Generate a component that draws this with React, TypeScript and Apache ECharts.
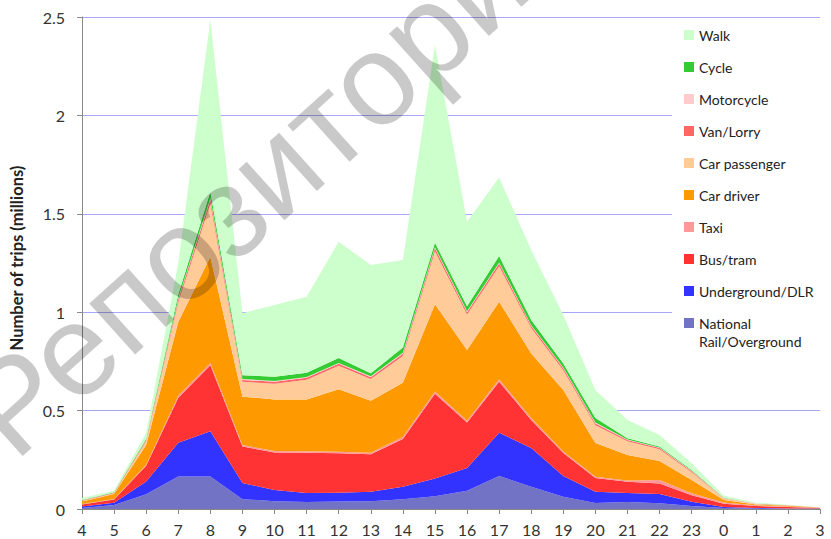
import React, { useEffect, useRef } from "react";
import * as echarts from "echarts";

const hours = ["4","5","6","7","8","9","10","11","12","13","14","15","16","17","18","19","20","21","22","23","0","1","2","3"];

const nationalRail = [0.005,0.02,0.075,0.165,0.165,0.05,0.04,0.035,0.038,0.04,0.05,0.065,0.093,0.168,0.113,0.062,0.03,0.035,0.029,0.015,0.005,0.002,0.001,0.001];
const underground = [0.008,0.012,0.065,0.172,0.23,0.082,0.057,0.046,0.045,0.048,0.063,0.09,0.115,0.22,0.197,0.106,0.058,0.046,0.047,0.022,0.005,0.003,0.002,0.001];
const busTram = [0.01,0.016,0.08,0.228,0.335,0.185,0.19,0.205,0.2,0.19,0.243,0.43,0.231,0.259,0.142,0.116,0.069,0.058,0.054,0.033,0.017,0.01,0.007,0.003];
const taxi = [0.003,0.003,0.005,0.01,0.012,0.008,0.008,0.008,0.008,0.008,0.01,0.012,0.01,0.012,0.01,0.008,0.007,0.006,0.017,0.01,0.006,0.004,0.003,0.001];
const carDriver = [0.012,0.025,0.1,0.375,0.54,0.246,0.262,0.263,0.317,0.264,0.276,0.443,0.359,0.394,0.328,0.313,0.171,0.129,0.097,0.067,0.013,0.004,0.003,0.001];
const carPassenger = [0.003,0.004,0.02,0.1,0.27,0.075,0.08,0.1,0.12,0.11,0.135,0.27,0.18,0.18,0.13,0.1,0.09,0.07,0.06,0.04,0.007,0.003,0.002,0.001];
const vanLorry = [0.002,0.002,0.005,0.015,0.02,0.01,0.01,0.01,0.01,0.01,0.012,0.015,0.012,0.015,0.01,0.01,0.01,0.006,0.006,0.005,0.002,0.001,0.001,0];
const motorcycle = [0.001,0.001,0.002,0.005,0.008,0.004,0.004,0.004,0.004,0.004,0.005,0.005,0.005,0.005,0.004,0.004,0.004,0.003,0.002,0.002,0.001,0.0005,0,0];
const cycle = [0.002,0.002,0.005,0.02,0.032,0.02,0.021,0.021,0.025,0.016,0.026,0.023,0.025,0.032,0.026,0.02,0.023,0.007,0.006,0.004,0.001,0.0005,0,0];
const walk = [0.01,0.008,0.03,0.16,0.873,0.315,0.364,0.387,0.591,0.55,0.445,1.005,0.43,0.399,0.356,0.247,0.143,0.092,0.058,0.035,0.011,0.004,0.002,0.001];

const seriesDefs = [
  { name: "National Rail/Overground", data: nationalRail, color: "#7373c6" },
  { name: "Underground/DLR", data: underground, color: "#3333ff" },
  { name: "Bus/tram", data: busTram, color: "#ff3333" },
  { name: "Taxi", data: taxi, color: "#ff9999" },
  { name: "Car driver", data: carDriver, color: "#ff9900" },
  { name: "Car passenger", data: carPassenger, color: "#ffcc99" },
  { name: "Van/Lorry", data: vanLorry, color: "#ff6666" },
  { name: "Motorcycle", data: motorcycle, color: "#ffcccc" },
  { name: "Cycle", data: cycle, color: "#33cc33" },
  { name: "Walk", data: walk, color: "#ccffcc" },
];

const FONT = "Lato, 'Open Sans', sans-serif";

const LEGEND_LEFT = 672;
const LEGEND_TOP = 20;
const LEGEND_PAD = [6, 22, 30, 12];
const ITEM_SPACING = 32;

export default function App() {
  const ref = useRef<HTMLDivElement>(null);
  useEffect(() => {
    if (!ref.current) return;
    const chart = echarts.init(ref.current, null, { renderer: "svg" });
    const legendNames = seriesDefs.slice().reverse().map((s) => s.name);
    const lastCenter = LEGEND_TOP + LEGEND_PAD[0] + 9 + ITEM_SPACING * (legendNames.length - 1);
    chart.setOption({
      animation: false,
      backgroundColor: "#ffffff",
      grid: { left: 81, right: 11, top: 17, bottom: 30, containLabel: false },
      legend: {
        orient: "vertical",
        left: LEGEND_LEFT,
        top: LEGEND_TOP,
        backgroundColor: "#ffffff",
        padding: LEGEND_PAD,
        icon: "rect",
        itemWidth: 10,
        itemHeight: 10,
        itemGap: ITEM_SPACING - 18,
        textStyle: { fontFamily: FONT, fontSize: 14, color: "#222", lineHeight: 18 },
        formatter: (n: string) => (n === "National Rail/Overground" ? "National" : n),
        data: legendNames,
      },
      xAxis: {
        type: "category",
        data: hours,
        boundaryGap: false,
        axisLine: { lineStyle: { color: "#888888", width: 1 } },
        axisTick: { show: true, length: 5, lineStyle: { color: "#888888" } },
        axisLabel: { fontFamily: FONT, fontSize: 16, color: "#333", margin: 12, interval: 0 },
        splitLine: { show: false },
      },
      yAxis: {
        type: "value",
        min: 0,
        max: 2.5,
        interval: 0.5,
        name: "Number of trips (millions)",
        nameLocation: "middle",
        nameGap: 57,
        nameTextStyle: {
          fontFamily: FONT,
          fontSize: 16.5,
          fontWeight: "bold",
          color: "#222",
          padding: [0, 0, 0, 10],
        },
        axisLine: { show: true, lineStyle: { color: "#888888", width: 1 } },
        axisTick: { show: true, length: 5, lineStyle: { color: "#888888" } },
        axisLabel: { fontFamily: FONT, fontSize: 16, color: "#333", margin: 17 },
        splitLine: { show: true, lineStyle: { color: "#a8a8f8", width: 1 } },
      },
      series: seriesDefs.map((s) => ({
        name: s.name,
        type: "line",
        stack: "total",
        data: s.data,
        showSymbol: false,
        symbol: "none",
        itemStyle: { color: s.color },
        lineStyle: { width: 0, color: s.color },
        areaStyle: { color: s.color, opacity: 1 },
        emphasis: { disabled: true },
      })),
      graphic: [
        {
          type: "text",
          z: 100,
          x: LEGEND_LEFT + LEGEND_PAD[3] + 10 + 5,
          y: lastCenter + 18,
          silent: true,
          style: {
            text: "Rail/Overground",
            fontFamily: FONT,
            fontSize: 14,
            fill: "#222",
            textAlign: "left",
            textVerticalAlign: "middle",
          },
        },
        {
          type: "text",
          z: 100,
          x: 28,
          y: 478,
          rotation: (42 * Math.PI) / 180,
          silent: true,
          style: {
            text: "Репозиторий",
            fontFamily: "'Liberation Sans', Arial, sans-serif",
            fontSize: 130,
            fill: "rgba(0,0,0,0.21)",
            textAlign: "left",
            textVerticalAlign: "bottom",
          },
        },
      ],
    });
    return () => chart.dispose();
  }, []);
  return <div ref={ref} style={{ width: 831, height: 539, position: "absolute", left: 0, top: 0 }} />;
}
